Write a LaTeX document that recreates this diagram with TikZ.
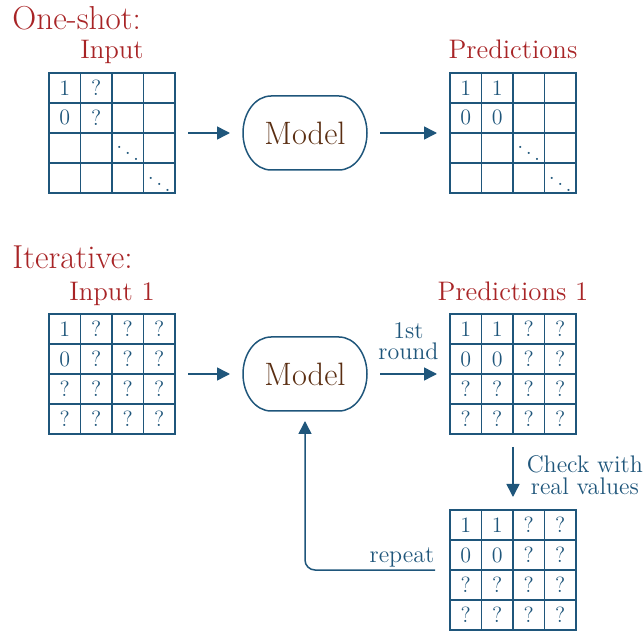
\documentclass[tikz,border=0pt]{standalone}
\usetikzlibrary{matrix,arrows.meta}

\definecolor{linkblue}{RGB}{31,86,123}
\definecolor{titlered}{RGB}{168,36,38}
\definecolor{modelbrown}{RGB}{90,46,18}

% lowers a cell entry slightly inside its cell
\newcommand\lowered[1]{\raisebox{-1.5pt}{#1}}

\tikzset{
  cellgrid/.style={matrix of nodes, nodes in empty cells, inner sep=0pt, outer sep=0pt,
    row sep=0pt, column sep=0pt,
    nodes={minimum width=15.75pt, minimum height=15pt, inner sep=0pt, outer sep=0pt,
      anchor=center, text=linkblue, font=\fontsize{11}{12}\selectfont}},
  gridline/.style={draw=linkblue, line width=0.7pt},
  gridframe/.style={draw=linkblue, line width=1.2pt},
  model/.style={minimum width=62pt, minimum height=37pt, inner sep=0pt, outer sep=0pt,
    text=modelbrown, font=\fontsize{16.2}{18}\selectfont},
  modelline/.style={draw=linkblue, line width=0.75pt},
  heading/.style={anchor=base west, text=titlered, font=\fontsize{16.6}{19}\selectfont, inner sep=0pt},
  gridlabel/.style={anchor=base, text=titlered, font=\fontsize{13.4}{15}\selectfont, inner sep=0pt},
  flow/.style={draw=linkblue, line width=0.75pt, -{Triangle[length=6.5pt,width=6.5pt]},
    shorten <=6.5pt, shorten >=6.5pt},
  note/.style={text=linkblue, font=\fontsize{12}{10.5}\selectfont, align=center, inner sep=0pt}
}

% inner lines and outer frame of a 4x4 grid
\newcommand\gridlinesfor[1]{%
  \foreach \k in {1,2,3}{
    \draw[gridline] (#1-1-\k.north east) -- (#1-4-\k.south east);
    \draw[gridline] (#1-\k-1.south west) -- (#1-\k-4.south east);
  }
  \draw[gridframe] (#1.north west) rectangle (#1.south east);
}

% outline of a model node: flat top and bottom, half-elliptic ends
\newcommand\modeloutline[1]{%
  \draw[modelline] ([xshift=14pt]#1.north west) -- ([xshift=-14pt]#1.north east)
    arc[start angle=90, end angle=-90, x radius=14pt, y radius=18.5pt]
    -- ([xshift=14pt]#1.south west)
    arc[start angle=270, end angle=90, x radius=14pt, y radius=18.5pt] -- cycle;
}

\begin{document}
\begin{tikzpicture}[x=0.5pt, y=-0.5pt]
\useasboundingbox (0,0) rectangle (644,631);

% ---------- one-shot ----------
\node[heading] (t1) at (12,30) {One-shot:};
\node[gridlabel] (l1) at (112,59) {Input};
\node[gridlabel] (l2) at (513,59) {Predictions};

\matrix[cellgrid] (in1) at (112,133) {
  1 & ? &  &  \\
  0 & ? &  &  \\
    &   & $\ddots$ &  \\
    &   &  & $\ddots$ \\
};
\gridlinesfor{in1}

\node[model] (m1) at (305,133) {Model};
\modeloutline{m1}

\matrix[cellgrid] (pr1) at (513,133) {
  1 & \lowered{1} &  &  \\
  0 & \lowered{0} &  &  \\
    &   & $\ddots$ &  \\
    &   &  & $\ddots$ \\
};
\gridlinesfor{pr1}

\draw[flow] (in1) -- (m1);
\draw[flow] (m1) -- (pr1);

% ---------- iterative ----------
\node[heading] (t2) at (12,269) {Iterative:};
\node[gridlabel] (l3) at (112,301) {Input 1};
\node[gridlabel] (l4) at (513,301) {Predictions 1};

\matrix[cellgrid] (in2) at (112,374) {
  1 & ? & ? & ? \\
  0 & ? & ? & ? \\
  ? & ? & ? & ? \\
  ? & ? & ? & ? \\
};
\gridlinesfor{in2}

\node[model] (m2) at (305,374) {Model};
\modeloutline{m2}

\matrix[cellgrid] (pr2) at (513,374) {
  1 & 1 & ? & ? \\
  0 & 0 & ? & ? \\
  ? & ? & ? & ? \\
  ? & ? & ? & ? \\
};
\gridlinesfor{pr2}

\matrix[cellgrid] (g3) at (513,570) {
  1 & \lowered{1} & ? & ? \\
  0 & \lowered{0} & ? & ? \\
  ? & ? & ? & ? \\
  ? & ? & ? & ? \\
};
\gridlinesfor{g3}

\draw[flow] (in2) -- (m2);
\draw[flow] (m2) -- node[note, above=7pt] (r1) {1st\\round} (pr2);
\draw[flow] (pr2) -- node[note, right=6.5pt, yshift=-1.5pt, font=\fontsize{12}{11}\selectfont] (r2) {Check with\\real values} (g3);
\draw[flow, shorten <=7.5pt, shorten >=5pt, rounded corners=5pt] (g3.west) -| (m2.south)
  node[pos=0, note, anchor=base east, xshift=-7.5pt, yshift=4pt] (r3) {repeat};
\end{tikzpicture}
\end{document}
